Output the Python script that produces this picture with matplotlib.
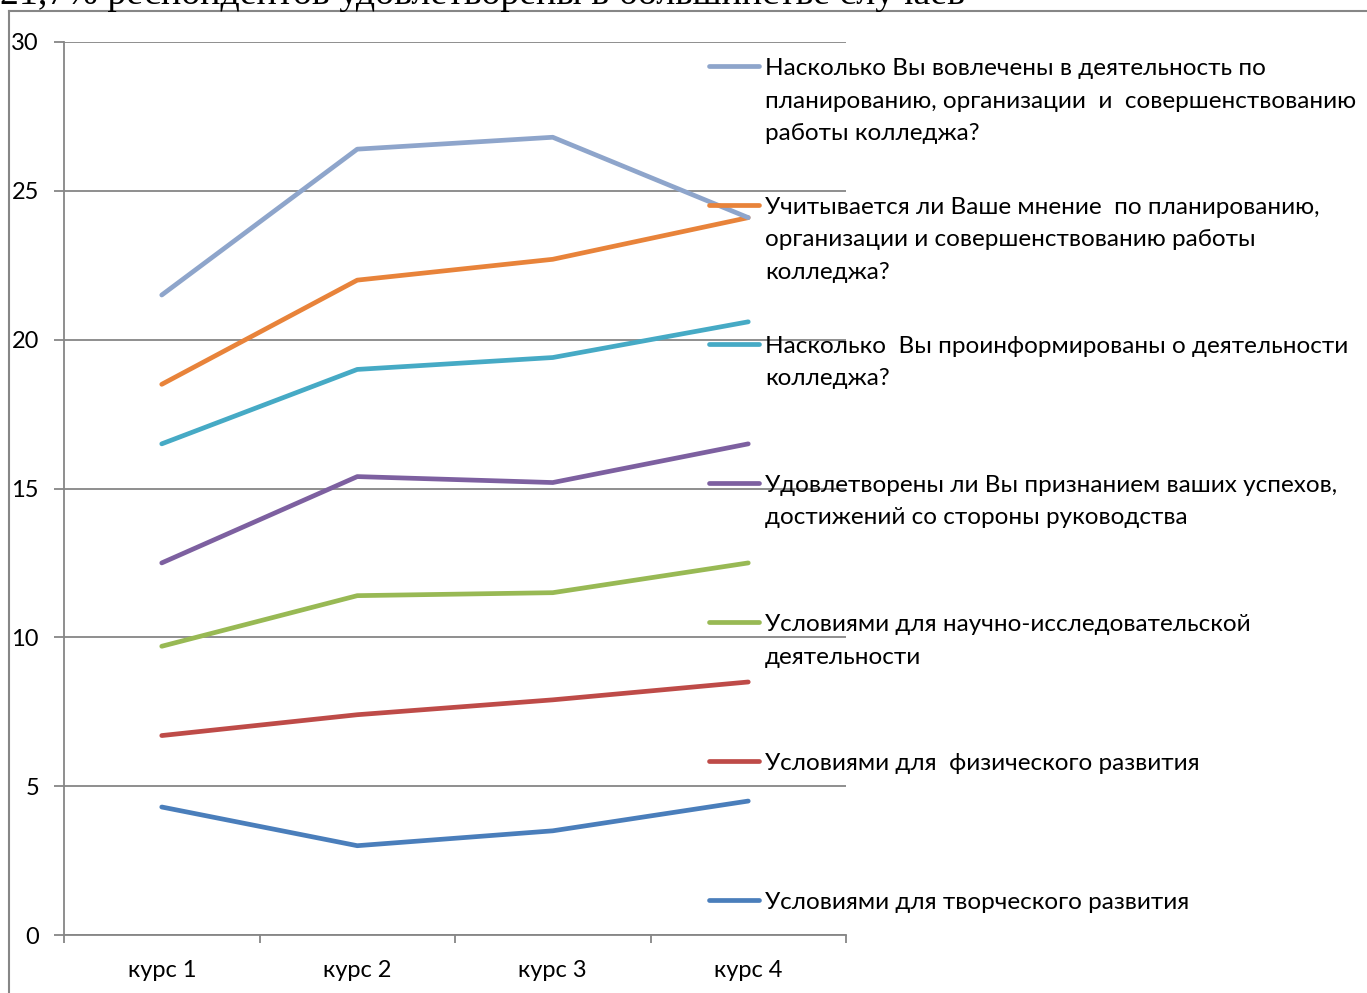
import matplotlib
matplotlib.use('Agg')
import matplotlib.pyplot as plt
from matplotlib.lines import Line2D

plt.rcParams['font.family'] = ['Lato', 'DejaVu Sans']

courses = ['курс 1', 'курс 2', 'курс 3', 'курс 4']

# values
tvorch = [4.3, 3.0, 3.5, 4.5]
fizich = [6.7, 7.4, 7.9, 8.5]
nauch = [9.7, 11.4, 11.5, 12.5]
uspehi = [12.5, 15.4, 15.2, 16.5]
inform = [16.5, 19.0, 19.4, 20.6]
mnenie = [18.5, 22.0, 22.7, 24.1]
vovlech = [21.5, 26.4, 26.8, 24.1]

series = [tvorch, fizich, nauch, uspehi, inform, mnenie, vovlech]
labels = [
    ['Условиями для творческого развития'],
    ['Условиями для  физического развития'],
    ['Условиями для научно-исследовательской', 'деятельности'],
    ['Удовлетворены ли Вы признанием ваших успехов,', 'достижений со стороны руководства'],
    ['Насколько  Вы проинформированы о деятельности', 'колледжа?'],
    ['Учитывается ли Ваше мнение  по планированию,', 'организации и совершенствованию работы', 'колледжа?'],
    ['Насколько Вы вовлечены в деятельность по', 'планированию, организации  и  совершенствованию', 'работы колледжа?'],
]
colors = ['#4A7EBB', '#BE4B48', '#98B954', '#7D60A0', '#46AAC5', '#E8833A', '#8EA5CB']

W, H = 1367, 993
fig = plt.figure(figsize=(W / 100, H / 100), dpi=100)

def fx(x):
    return x / W

def fy(y):
    return 1 - y / H

grey = '#868686'

# cut-off text line above the chart and the chart frame
fig.text(fx(0), fy(4), '21,7% респондентов удовлетворены в большинстве случаев',
         family='Liberation Serif', fontsize=27.3, va='baseline', ha='left')
fig.add_artist(Line2D([fx(9), fx(9)], [fy(11), 0], color=grey, lw=1.5))
fig.add_artist(Line2D([fx(9), 1], [fy(11), fy(11)], color=grey, lw=1.5))

ax = fig.add_axes([fx(64), fy(935), fx(846) - fx(64), fy(42) - fy(935)])
x = range(len(courses))
for vals, c in zip(series, colors):
    ax.plot(x, vals, color=c, lw=3.4, solid_capstyle='round')

ax.set_xlim(-0.5, 3.5)
ax.set_ylim(0, 30)
ax.set_yticks(range(0, 31, 5))
ax.yaxis.grid(True, color=grey, lw=1.3)
ax.set_axisbelow(True)
ax.set_xticks(list(x))
ax.set_xticklabels(courses)
ax.set_xticks([-0.5, 0.5, 1.5, 2.5, 3.5], minor=True)
ax.tick_params(axis='x', which='major', length=0, pad=18, labelsize=17)
ax.tick_params(axis='x', which='minor', length=6, color=grey, width=1.3)
ax.tick_params(axis='y', length=7, color=grey, width=1.3, pad=11, labelsize=17)
for s in ['top', 'right']:
    ax.spines[s].set_visible(False)
for s in ['left', 'bottom']:
    ax.spines[s].set_color(grey)
    ax.spines[s].set_linewidth(1.3)

# legend, drawn by hand: entries from the last series down
entry_y = [66, 205, 344, 483, 622, 761, 900]
for i, yy in enumerate(entry_y):
    k = len(series) - 1 - i
    fig.add_artist(Line2D([fx(709), fx(759)], [fy(yy), fy(yy)], color=colors[k],
                          lw=3.4, solid_capstyle='round'))
    for j, line in enumerate(labels[k]):
        fig.text(fx(765), fy(yy + 9 + 32.5 * j), line, fontsize=17.5,
                 va='baseline', ha='left')

fig.savefig('out.png', dpi=100)
